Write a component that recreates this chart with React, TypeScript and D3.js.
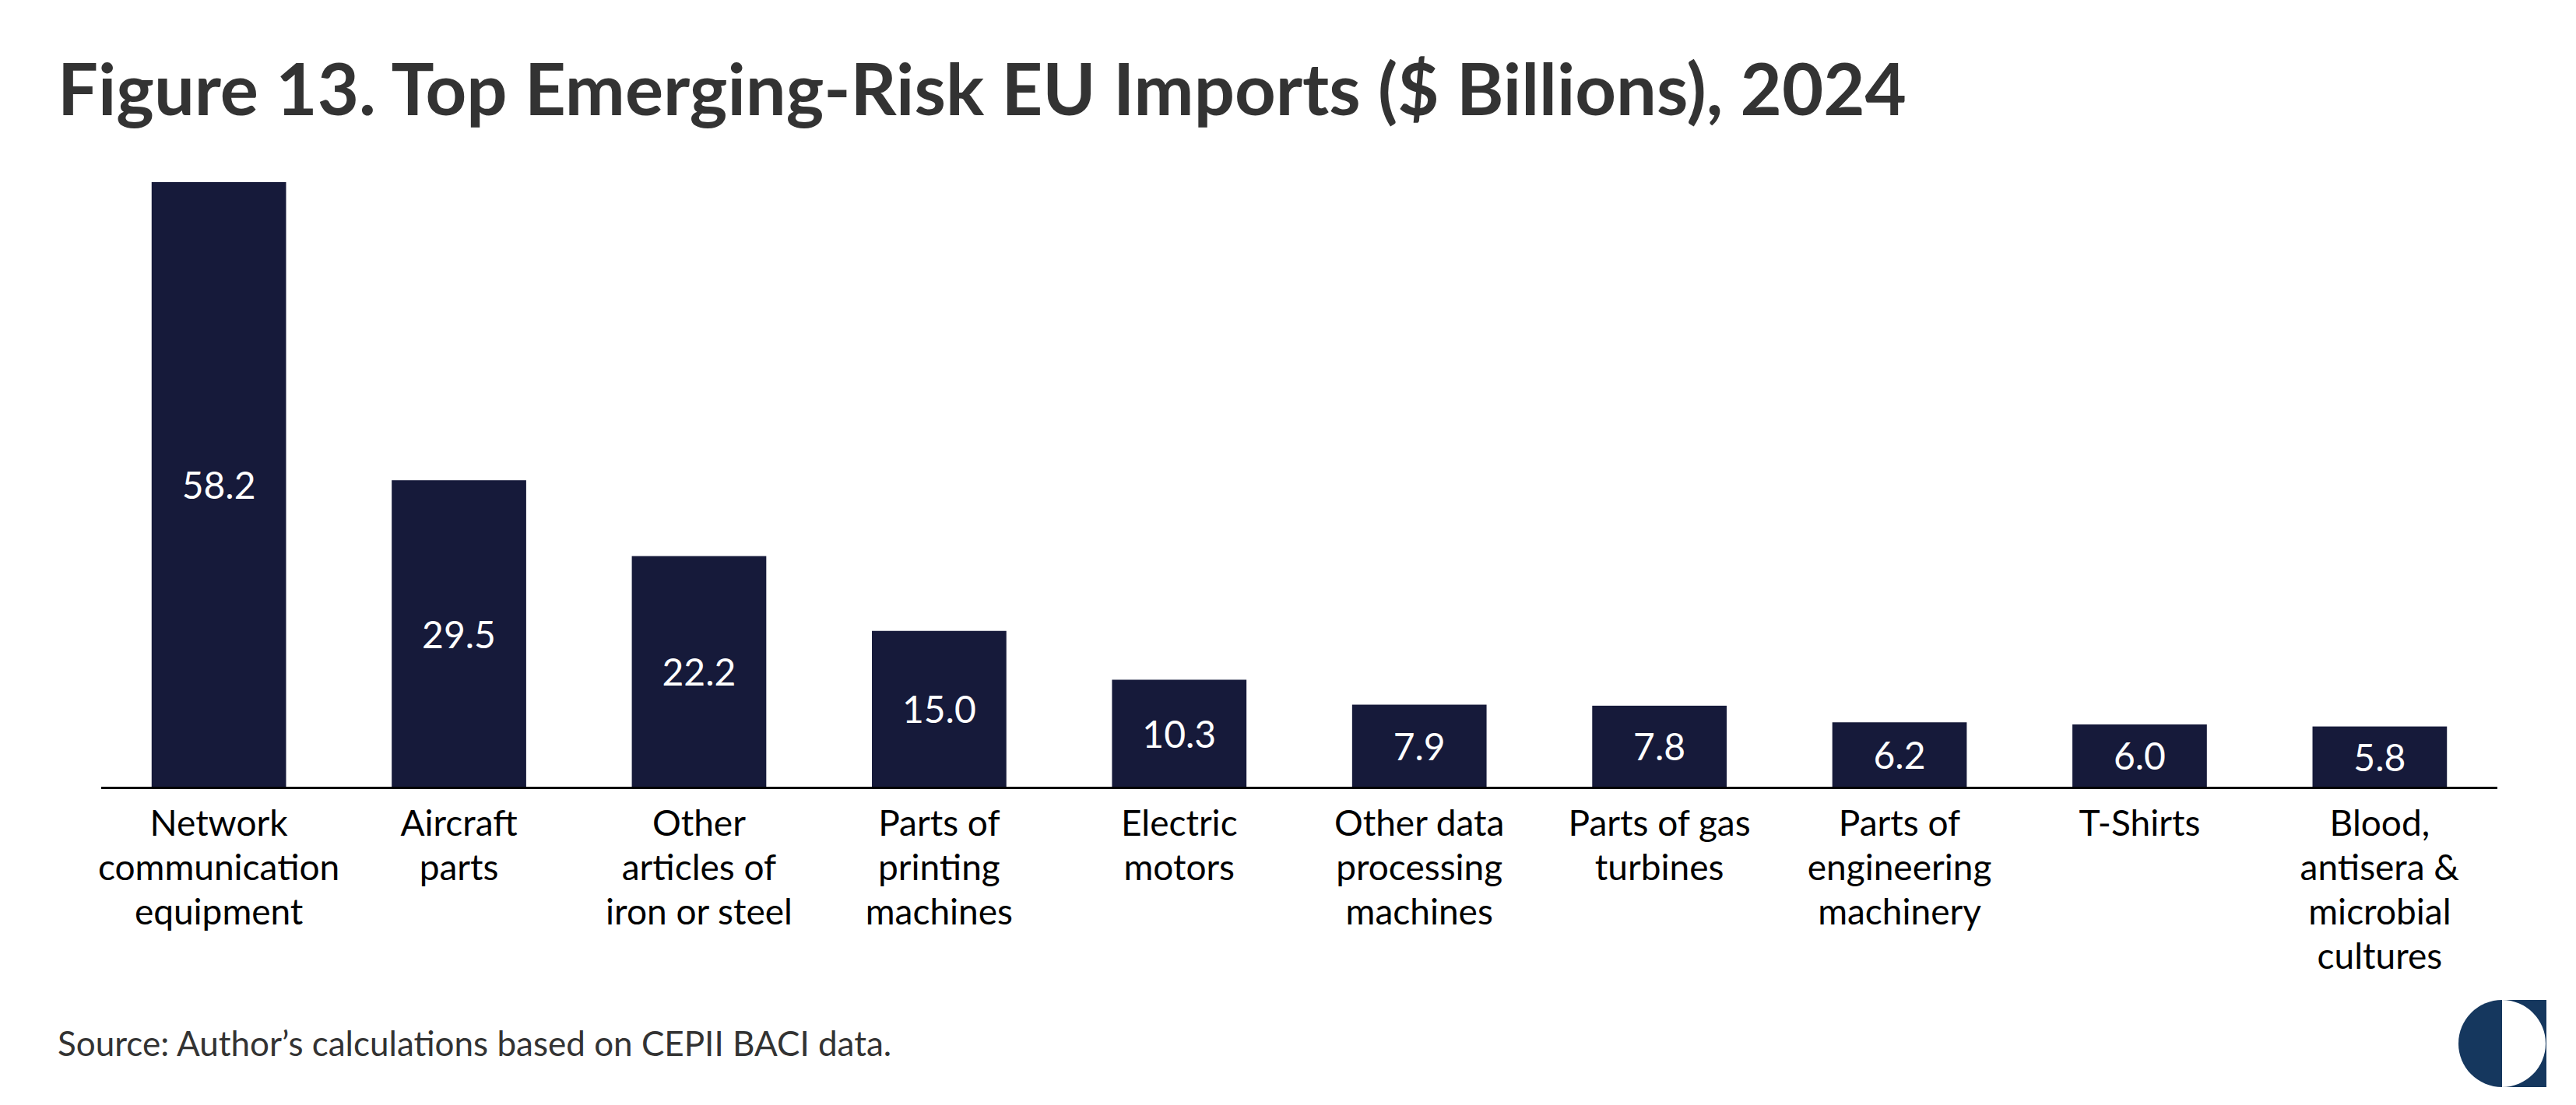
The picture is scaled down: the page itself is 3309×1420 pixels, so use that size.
import React from "react";
import * as d3 from "d3";

// chart values
const categories = [
  "Network communication equipment",
  "Aircraft parts",
  "Other articles of iron or steel",
  "Parts of printing machines",
  "Electric motors",
  "Other data processing machines",
  "Parts of gas turbines",
  "Parts of engineering machinery",
  "T-Shirts",
  "Blood, antisera & microbial cultures",
];

// how each category label breaks into lines
const categoryLines = [
  ["Network", "communication", "equipment"],
  ["Aircraft", "parts"],
  ["Other", "articles of", "iron or steel"],
  ["Parts of", "printing", "machines"],
  ["Electric", "motors"],
  ["Other data", "processing", "machines"],
  ["Parts of gas", "turbines"],
  ["Parts of", "engineering", "machinery"],
  ["T-Shirts"],
  ["Blood,", "antisera &", "microbial", "cultures"],
];

const importValues = [58.2, 29.5, 22.2, 15.0, 10.3, 7.9, 7.8, 6.2, 6.0, 5.8];

const title = "Figure 13. Top Emerging-Risk EU Imports ($ Billions), 2024";
const source = "Source: Author\u2019s calculations based on CEPII BACI data.";

const W = 3309;
const H = 1420;
const baseY = 1011;
const font = "Lato, 'Noto Sans', sans-serif";
const barColor = "#161a3a";
const logoColor = "#15375e";

const App = () => {
  const x = d3
    .scaleBand<string>()
    .domain(categories)
    .range([130, 3208])
    .paddingInner(0.44)
    .paddingOuter(0.21);

  const y = d3.scaleLinear().domain([0, 60]).range([baseY, baseY - 801]);

  const lineH = 57;

  // logo: half disc on the left, square with a half disc cut out on the right
  const lx = 3214;
  const ly = 1341;
  const r = 56;
  const leftHalf = `M${lx},${ly - r} A${r},${r} 0 0 0 ${lx},${ly + r} Z`;
  const rightPart = `M${lx},${ly - r} H${lx + r + 1} V${ly + r} H${lx} A${r},${r} 0 0 0 ${lx},${ly - r} Z`;

  return (
    <svg
      width={W}
      height={H}
      style={{ position: "absolute", left: 0, top: 0, background: "#fff" }}
      fontFamily={font}
    >
      <text x={74} y={148} fontSize={92} fontWeight={700} fill="#333333">
        {title}
      </text>

      <g>
        {categories.map((c, i) => (
          <rect
            key={c}
            x={x(c)}
            y={y(importValues[i])}
            width={x.bandwidth()}
            height={baseY - y(importValues[i])}
            fill={barColor}
          />
        ))}
      </g>

      <g>
        {categories.map((c, i) => (
          <text
            key={c}
            x={(x(c) || 0) + x.bandwidth() / 2}
            y={(y(importValues[i]) + baseY) / 2}
            textAnchor="middle"
            dominantBaseline="central"
            fontSize={48}
            fill="#ffffff"
          >
            {importValues[i].toFixed(1)}
          </text>
        ))}
      </g>

      <line
        x1={x.range()[0]}
        x2={x.range()[1]}
        y1={baseY + 1.5}
        y2={baseY + 1.5}
        stroke="#000"
        strokeWidth={3}
      />

      <g>
        {categories.map((c, i) => (
          <text
            key={c}
            x={(x(c) || 0) + x.bandwidth() / 2}
            y={1074}
            textAnchor="middle"
            fontSize={46}
            fill="#000"
          >
            {categoryLines[i].map((l, j) => (
              <tspan key={j} x={(x(c) || 0) + x.bandwidth() / 2} dy={j === 0 ? 0 : lineH}>
                {l}
              </tspan>
            ))}
          </text>
        ))}
      </g>

      <text x={74} y={1357} fontSize={44} fill="#333333">
        {source}
      </text>

      <path d={leftHalf} fill={logoColor} />
      <path d={rightPart} fill={logoColor} />
    </svg>
  );
};

export default App;
